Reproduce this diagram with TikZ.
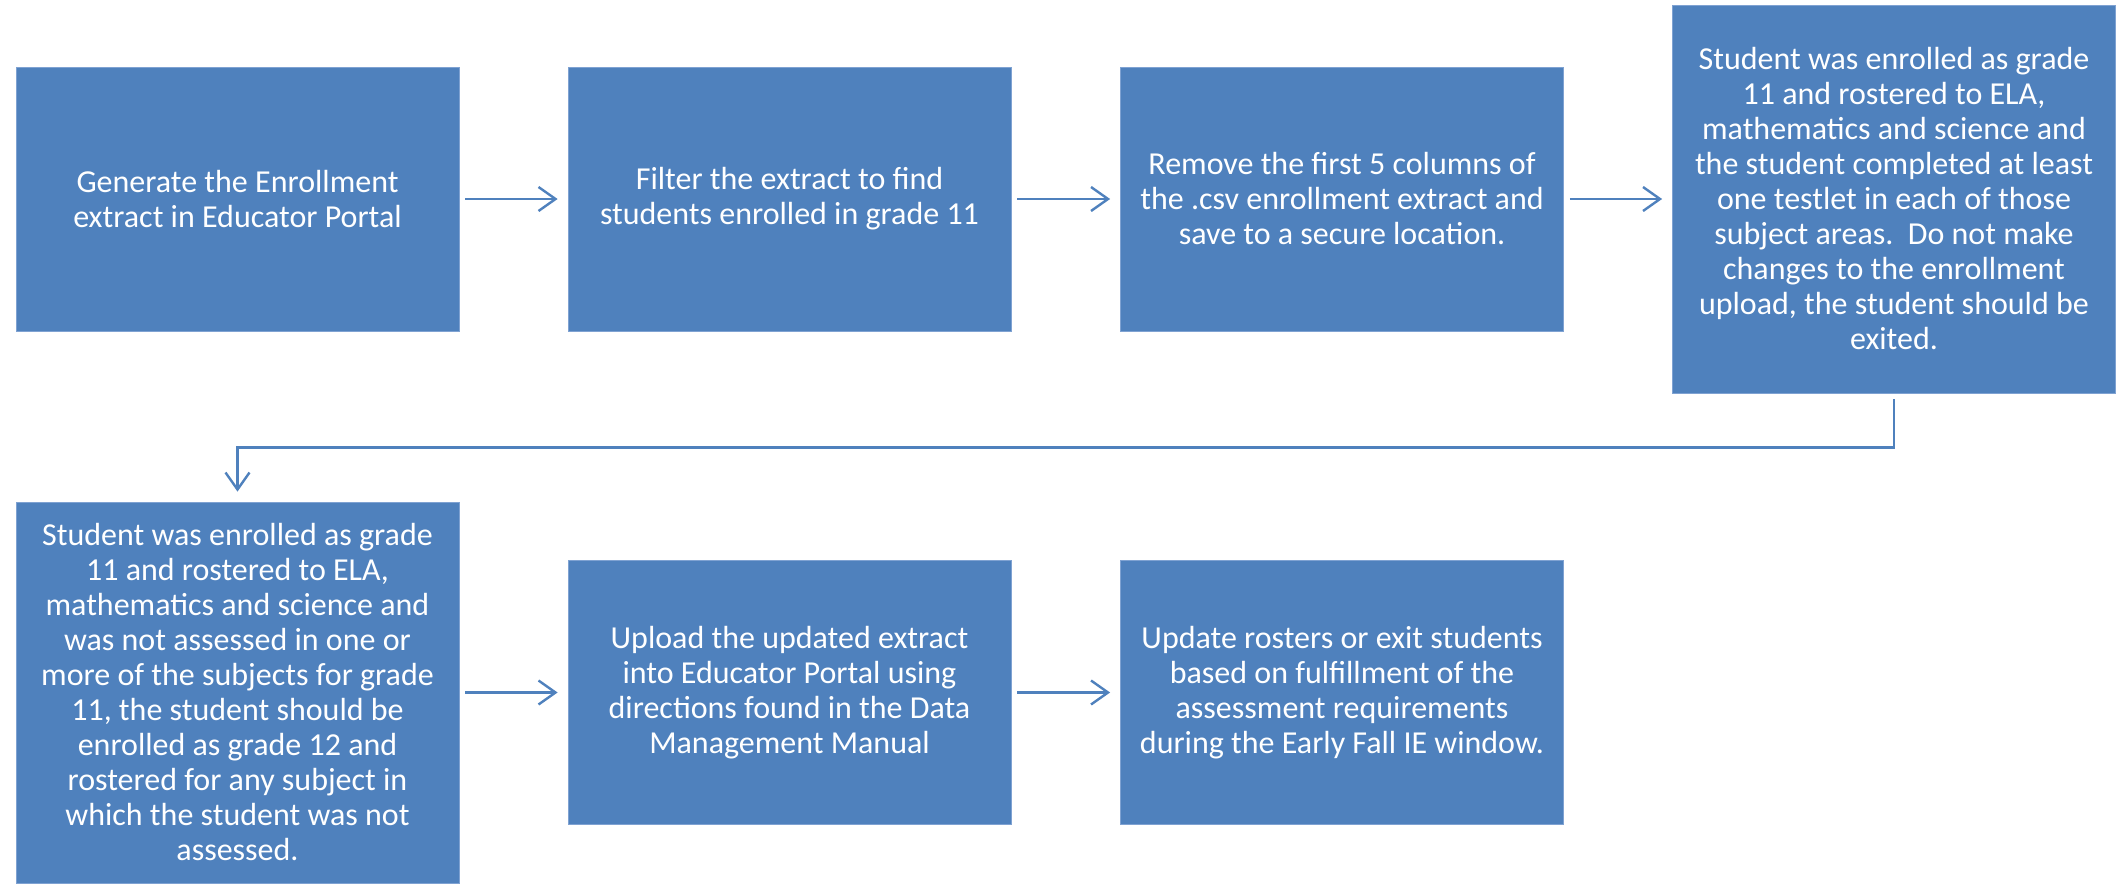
\documentclass[tikz,border=0pt]{standalone}
\usepackage{fontspec}
\setmainfont{Carlito}
\usetikzlibrary{arrows.meta}
\definecolor{boxblue}{HTML}{4F81BD}
\definecolor{boxedge}{HTML}{7FA2D2}
\tikzset{
  stepbox/.style={rectangle, fill=boxblue, draw=boxedge, line width=0.8pt,
    minimum width=443pt, inner sep=0pt, align=center, text=white,
    font=\fontsize{32}{35}\selectfont},
  flow/.style={draw=boxblue, line width=2.4pt,
    -{Straight Barb[length=17pt,width=24pt,line width=2.4pt]}}
}
\begin{document}
\begin{tikzpicture}[x=1pt,y=-1pt]
\useasboundingbox[fill=white] (0,0) rectangle (2126,886);
\node[stepbox, minimum height=264pt] (b1) at (237.5,199) {Generate the Enrollment\\extract in Educator Portal};
\node[stepbox, minimum height=264pt] (b2) at (789.5,199) {Filter the extract to find\\students enrolled in grade 11};
\node[stepbox, minimum height=264pt] (b3) at (1342,199) {Remove the first 5 columns of\\the .csv enrollment extract and\\save to a secure location.};
\node[stepbox, minimum height=388pt] (b4) at (1894,199) {Student was enrolled as grade\\11 and rostered to ELA,\\mathematics and science and\\the student completed at least\\one testlet in each of those\\subject areas.\ \ Do not make\\changes to the enrollment\\upload, the student should be\\exited.};
\node[stepbox, minimum height=381pt] (b5) at (237.5,692.5) {Student was enrolled as grade\\11 and rostered to ELA,\\mathematics and science and\\was not assessed in one or\\more of the subjects for grade\\11, the student should be\\enrolled as grade 12 and\\rostered for any subject in\\which the student was not\\assessed.};
\node[stepbox, minimum height=264pt] (b6) at (789.5,692.5) {Upload the updated extract\\into Educator Portal using\\directions found in the Data\\Management Manual};
\node[stepbox, minimum height=264pt] (b7) at (1342,692.5) {Update rosters or exit students\\based on fulfillment of the\\assessment requirements\\during the Early Fall IE window.};
\draw[flow, shorten <=6pt, shorten >=10pt] (b1) -- (b2);
\draw[flow, shorten <=6pt, shorten >=10pt] (b2) -- (b3);
\draw[flow, shorten <=6pt, shorten >=10pt] (b3) -- (b4);
\draw[flow, shorten <=6pt, shorten >=10pt] (b4.south) -- ++(0,54) -| (b5.north);
\draw[flow, shorten <=6pt, shorten >=10pt] (b5) -- (b6);
\draw[flow, shorten <=6pt, shorten >=10pt] (b6) -- (b7);
\end{tikzpicture}
\end{document}
